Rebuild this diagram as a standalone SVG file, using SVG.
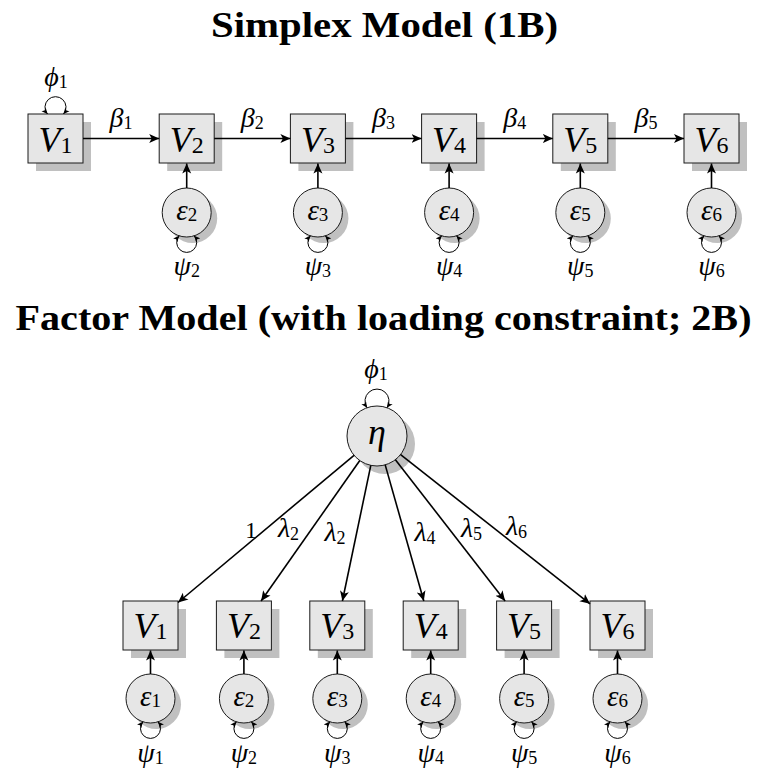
<svg xmlns="http://www.w3.org/2000/svg" width="757" height="768" viewBox="0 0 757 768">
<style>
.t{font-family:"Liberation Serif","DejaVu Serif",serif;font-weight:bold;font-size:35px;fill:#000}
.m{font-family:"Liberation Serif","DejaVu Serif",serif;font-style:italic;fill:#000}
.n{font-style:normal}
.g{font-size:28px}
.s{font-size:18px;font-style:normal}
.e{font-size:29px}
.es{font-size:19px;font-style:normal}
.box{fill:#e6e6e6;stroke:#1a1a1a;stroke-width:1}
.sh{fill:#c0c0c0}
.ar{stroke:#000;stroke-width:1.6;fill:none;marker-end:url(#ah)}
.lp{stroke:#000;stroke-width:1;fill:none;marker-start:url(#as);marker-end:url(#as)}
</style>
<defs>
<marker id="ah" markerUnits="userSpaceOnUse" markerWidth="11" markerHeight="10" viewBox="0 -5 11 10" refX="10" refY="0" orient="auto"><path d="M0,-4.5 L10,0 L0,4.5 L2.5,0 z" fill="#000"/></marker>
<marker id="as" markerUnits="userSpaceOnUse" markerWidth="6" markerHeight="6" viewBox="0 -3 6 6" refX="6" refY="0" orient="auto-start-reverse"><path d="M0,-2.8 L6,0 L0,2.8 L1.5,0 z" fill="#000"/></marker>
</defs>
<rect width="757" height="768" fill="#fff"/>
<text class="t" x="384.5" y="37" text-anchor="middle" textLength="347" lengthAdjust="spacingAndGlyphs">Simplex Model (1B)</text>
<text class="t" x="383.5" y="330" text-anchor="middle" textLength="736" lengthAdjust="spacingAndGlyphs">Factor Model (with loading constraint; 2B)</text>

<!-- Simplex nodes -->
<g id="s-V1"><rect class="sh" x="36" y="122" width="55" height="49"/><rect class="box" x="28" y="114" width="55" height="49"/><text class="m" x="55.5" y="152" font-size="36" text-anchor="middle">V<tspan class="n" font-size="24" dy="1">1</tspan></text></g>
<g id="s-V2"><rect class="sh" x="167.2" y="122" width="55" height="49"/><rect class="box" x="159.2" y="114" width="55" height="49"/><text class="m" x="186.7" y="152" font-size="36" text-anchor="middle">V<tspan class="n" font-size="24" dy="1">2</tspan></text></g>
<g id="s-V3"><rect class="sh" x="298.4" y="122" width="55" height="49"/><rect class="box" x="290.4" y="114" width="55" height="49"/><text class="m" x="317.9" y="152" font-size="36" text-anchor="middle">V<tspan class="n" font-size="24" dy="1">3</tspan></text></g>
<g id="s-V4"><rect class="sh" x="429.6" y="122" width="55" height="49"/><rect class="box" x="421.6" y="114" width="55" height="49"/><text class="m" x="449.1" y="152" font-size="36" text-anchor="middle">V<tspan class="n" font-size="24" dy="1">4</tspan></text></g>
<g id="s-V5"><rect class="sh" x="560.8" y="122" width="55" height="49"/><rect class="box" x="552.8" y="114" width="55" height="49"/><text class="m" x="580.3" y="152" font-size="36" text-anchor="middle">V<tspan class="n" font-size="24" dy="1">5</tspan></text></g>
<g id="s-V6"><rect class="sh" x="692" y="122" width="55" height="49"/><rect class="box" x="684" y="114" width="55" height="49"/><text class="m" x="711.5" y="152" font-size="36" text-anchor="middle">V<tspan class="n" font-size="24" dy="1">6</tspan></text></g>

<g id="s-e2"><circle class="sh" cx="192.7" cy="218.5" r="24.5"/><circle class="box" cx="186.7" cy="212.5" r="24.5"/><text class="m e" x="186.7" y="220" text-anchor="middle">ε<tspan class="es" dy="1">2</tspan></text></g>
<g id="s-e3"><circle class="sh" cx="323.9" cy="218.5" r="24.5"/><circle class="box" cx="317.9" cy="212.5" r="24.5"/><text class="m e" x="317.9" y="220" text-anchor="middle">ε<tspan class="es" dy="1">3</tspan></text></g>
<g id="s-e4"><circle class="sh" cx="455.1" cy="218.5" r="24.5"/><circle class="box" cx="449.1" cy="212.5" r="24.5"/><text class="m e" x="449.1" y="220" text-anchor="middle">ε<tspan class="es" dy="1">4</tspan></text></g>
<g id="s-e5"><circle class="sh" cx="586.3" cy="218.5" r="24.5"/><circle class="box" cx="580.3" cy="212.5" r="24.5"/><text class="m e" x="580.3" y="220" text-anchor="middle">ε<tspan class="es" dy="1">5</tspan></text></g>
<g id="s-e6"><circle class="sh" cx="717.5" cy="218.5" r="24.5"/><circle class="box" cx="711.5" cy="212.5" r="24.5"/><text class="m e" x="711.5" y="220" text-anchor="middle">ε<tspan class="es" dy="1">6</tspan></text></g>

<!-- Factor nodes -->
<g id="f-eta"><circle class="sh" cx="385" cy="444" r="30"/><circle class="box" cx="377" cy="436" r="30"/><text class="m" x="377" y="444" font-size="36" text-anchor="middle">η</text></g>
<g id="f-V1"><rect class="sh" x="131" y="609" width="55" height="49"/><rect class="box" x="123" y="601" width="55" height="49"/><text class="m" x="150.5" y="638" font-size="36" text-anchor="middle">V<tspan class="n" font-size="24" dy="1">1</tspan></text></g>
<g id="f-V2"><rect class="sh" x="224.4" y="609" width="55" height="49"/><rect class="box" x="216.4" y="601" width="55" height="49"/><text class="m" x="243.9" y="638" font-size="36" text-anchor="middle">V<tspan class="n" font-size="24" dy="1">2</tspan></text></g>
<g id="f-V3"><rect class="sh" x="317.8" y="609" width="55" height="49"/><rect class="box" x="309.8" y="601" width="55" height="49"/><text class="m" x="337.3" y="638" font-size="36" text-anchor="middle">V<tspan class="n" font-size="24" dy="1">3</tspan></text></g>
<g id="f-V4"><rect class="sh" x="411.2" y="609" width="55" height="49"/><rect class="box" x="403.2" y="601" width="55" height="49"/><text class="m" x="430.7" y="638" font-size="36" text-anchor="middle">V<tspan class="n" font-size="24" dy="1">4</tspan></text></g>
<g id="f-V5"><rect class="sh" x="504.6" y="609" width="55" height="49"/><rect class="box" x="496.6" y="601" width="55" height="49"/><text class="m" x="524.1" y="638" font-size="36" text-anchor="middle">V<tspan class="n" font-size="24" dy="1">5</tspan></text></g>
<g id="f-V6"><rect class="sh" x="598" y="609" width="55" height="49"/><rect class="box" x="590" y="601" width="55" height="49"/><text class="m" x="617.5" y="638" font-size="36" text-anchor="middle">V<tspan class="n" font-size="24" dy="1">6</tspan></text></g>

<g id="f-e1"><circle class="sh" cx="156.5" cy="704.5" r="24.5"/><circle class="box" cx="150.5" cy="698.5" r="24.5"/><text class="m e" x="150.5" y="706" text-anchor="middle">ε<tspan class="es" dy="1">1</tspan></text></g>
<g id="f-e2"><circle class="sh" cx="249.9" cy="704.5" r="24.5"/><circle class="box" cx="243.9" cy="698.5" r="24.5"/><text class="m e" x="243.9" y="706" text-anchor="middle">ε<tspan class="es" dy="1">2</tspan></text></g>
<g id="f-e3"><circle class="sh" cx="343.3" cy="704.5" r="24.5"/><circle class="box" cx="337.3" cy="698.5" r="24.5"/><text class="m e" x="337.3" y="706" text-anchor="middle">ε<tspan class="es" dy="1">3</tspan></text></g>
<g id="f-e4"><circle class="sh" cx="436.7" cy="704.5" r="24.5"/><circle class="box" cx="430.7" cy="698.5" r="24.5"/><text class="m e" x="430.7" y="706" text-anchor="middle">ε<tspan class="es" dy="1">4</tspan></text></g>
<g id="f-e5"><circle class="sh" cx="530.1" cy="704.5" r="24.5"/><circle class="box" cx="524.1" cy="698.5" r="24.5"/><text class="m e" x="524.1" y="706" text-anchor="middle">ε<tspan class="es" dy="1">5</tspan></text></g>
<g id="f-e6"><circle class="sh" cx="623.5" cy="704.5" r="24.5"/><circle class="box" cx="617.5" cy="698.5" r="24.5"/><text class="m e" x="617.5" y="706" text-anchor="middle">ε<tspan class="es" dy="1">6</tspan></text></g>

<g id="connectors">
<line class="ar" x1="83" y1="138.5" x2="159.2" y2="138.5"/>
<line class="ar" x1="214.2" y1="138.5" x2="290.4" y2="138.5"/>
<line class="ar" x1="345.4" y1="138.5" x2="421.6" y2="138.5"/>
<line class="ar" x1="476.6" y1="138.5" x2="552.8" y2="138.5"/>
<line class="ar" x1="607.8" y1="138.5" x2="684" y2="138.5"/>
<line class="ar" x1="186.7" y1="188" x2="186.7" y2="163.5"/>
<line class="ar" x1="317.9" y1="188" x2="317.9" y2="163.5"/>
<line class="ar" x1="449.1" y1="188" x2="449.1" y2="163.5"/>
<line class="ar" x1="580.3" y1="188" x2="580.3" y2="163.5"/>
<line class="ar" x1="711.5" y1="188" x2="711.5" y2="163.5"/>
<path class="lp" d="M47.5 114 A10.5 10.5 0 1 1 63.5 114"/>
<path class="lp" d="M179.2 235.8 A10 10 0 1 0 194.2 235.8"/>
<path class="lp" d="M310.4 235.8 A10 10 0 1 0 325.4 235.8"/>
<path class="lp" d="M441.6 235.8 A10 10 0 1 0 456.6 235.8"/>
<path class="lp" d="M572.8 235.8 A10 10 0 1 0 587.8 235.8"/>
<path class="lp" d="M704 235.8 A10 10 0 1 0 719 235.8"/>
<line class="ar" x1="354" y1="455.3" x2="178" y2="602.5"/>
<line class="ar" x1="359.8" y1="460.5" x2="261.1" y2="601"/>
<line class="ar" x1="370.8" y1="465.4" x2="342.4" y2="601"/>
<line class="ar" x1="385.2" y1="464.9" x2="423.8" y2="601"/>
<line class="ar" x1="395.4" y1="459.7" x2="505.1" y2="601"/>
<line class="ar" x1="400.6" y1="454.6" x2="590" y2="603.8"/>
<line class="ar" x1="150.5" y1="674" x2="150.5" y2="650.5"/>
<line class="ar" x1="243.9" y1="674" x2="243.9" y2="650.5"/>
<line class="ar" x1="337.3" y1="674" x2="337.3" y2="650.5"/>
<line class="ar" x1="430.7" y1="674" x2="430.7" y2="650.5"/>
<line class="ar" x1="524.1" y1="674" x2="524.1" y2="650.5"/>
<line class="ar" x1="617.5" y1="674" x2="617.5" y2="650.5"/>
<path class="lp" d="M367 407.7 A12 12 0 1 1 387 407.7"/>
<path class="lp" d="M143 721.8 A10 10 0 1 0 158 721.8"/>
<path class="lp" d="M236.4 721.8 A10 10 0 1 0 251.4 721.8"/>
<path class="lp" d="M329.8 721.8 A10 10 0 1 0 344.8 721.8"/>
<path class="lp" d="M423.2 721.8 A10 10 0 1 0 438.2 721.8"/>
<path class="lp" d="M516.6 721.8 A10 10 0 1 0 531.6 721.8"/>
<path class="lp" d="M610 721.8 A10 10 0 1 0 625 721.8"/>
</g>

<g id="labels">
<text class="m g" x="121.1" y="127" text-anchor="middle">β<tspan class="s" dy="2">1</tspan></text>
<text class="m g" x="252.3" y="127" text-anchor="middle">β<tspan class="s" dy="2">2</tspan></text>
<text class="m g" x="383.5" y="127" text-anchor="middle">β<tspan class="s" dy="2">3</tspan></text>
<text class="m g" x="514.7" y="127" text-anchor="middle">β<tspan class="s" dy="2">4</tspan></text>
<text class="m g" x="645.9" y="127" text-anchor="middle">β<tspan class="s" dy="2">5</tspan></text>
<text class="m g" x="56" y="86" text-anchor="middle">ϕ<tspan class="s" dy="2">1</tspan></text>
<text class="m g" x="186.7" y="275" text-anchor="middle">ψ<tspan class="s" dy="2">2</tspan></text>
<text class="m g" x="317.9" y="275" text-anchor="middle">ψ<tspan class="s" dy="2">3</tspan></text>
<text class="m g" x="449.1" y="275" text-anchor="middle">ψ<tspan class="s" dy="2">4</tspan></text>
<text class="m g" x="580.3" y="275" text-anchor="middle">ψ<tspan class="s" dy="2">5</tspan></text>
<text class="m g" x="711.5" y="275" text-anchor="middle">ψ<tspan class="s" dy="2">6</tspan></text>

<text class="m g" x="376" y="378" text-anchor="middle">ϕ<tspan class="s" dy="2">1</tspan></text>
<text class="m n" x="251" y="538" font-size="23" text-anchor="middle">1</text>
<text class="m g" x="288.5" y="537" text-anchor="middle">λ<tspan class="s" dy="3">2</tspan></text>
<text class="m g" x="335" y="541" text-anchor="middle">λ<tspan class="s" dy="3">2</tspan></text>
<text class="m g" x="425" y="541" text-anchor="middle">λ<tspan class="s" dy="3">4</tspan></text>
<text class="m g" x="471.5" y="537" text-anchor="middle">λ<tspan class="s" dy="3">5</tspan></text>
<text class="m g" x="516.5" y="535" text-anchor="middle">λ<tspan class="s" dy="3">6</tspan></text>
<text class="m g" x="150.5" y="762" text-anchor="middle">ψ<tspan class="s" dy="2">1</tspan></text>
<text class="m g" x="243.9" y="762" text-anchor="middle">ψ<tspan class="s" dy="2">2</tspan></text>
<text class="m g" x="337.3" y="762" text-anchor="middle">ψ<tspan class="s" dy="2">3</tspan></text>
<text class="m g" x="430.7" y="762" text-anchor="middle">ψ<tspan class="s" dy="2">4</tspan></text>
<text class="m g" x="524.1" y="762" text-anchor="middle">ψ<tspan class="s" dy="2">5</tspan></text>
<text class="m g" x="617.5" y="762" text-anchor="middle">ψ<tspan class="s" dy="2">6</tspan></text>
</g>
</svg>
